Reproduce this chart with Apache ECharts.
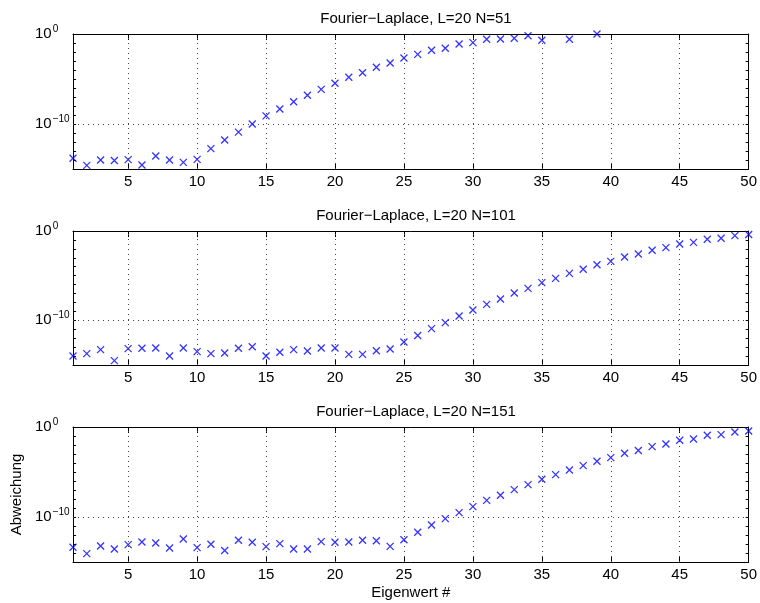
<!DOCTYPE html>
<html>
<head>
<meta charset="utf-8">
<title>Fourier-Laplace Abweichung</title>
<script src="https://cdn.jsdelivr.net/npm/echarts@6/dist/echarts.min.js"></script>
<style>
  html, body { margin: 0; padding: 0; background: #fff; }
  #chart { width: 760px; height: 603px; }
</style>
</head>
<body>
<div id="chart"></div>
<script>
// log10 der Abweichung, Eigenwert 1..50
const logAbwN51 = [-13.8, -14.6, -14.0, -14.05, -13.96, -14.55, -13.56, -14.0, -14.26, -13.93,
  -12.74, -11.78, -10.9, -10.0, -9.1, -8.33, -7.52, -6.81, -6.15, -5.48,
  -4.81, -4.3, -3.7, -3.22, -2.67, -2.26, -1.81, -1.59, -1.11, -0.96,
  -0.59, -0.56, -0.48, -0.19, -0.7, null, -0.59, null, 0.0, null,
  null, null, null, null, null, null, null, null, null, null];
const logAbwN101 = [-14.0, -13.73, -13.28, -14.51, -13.17, -13.13, -13.1, -14.0, -13.1, -13.5,
  -13.73, -13.66, -13.13, -12.95, -14.0, -13.58, -13.28, -13.44, -13.1, -13.1,
  -13.81, -13.81, -13.4, -13.2, -12.43, -11.7, -10.93, -10.26, -9.52, -8.85,
  -8.21, -7.61, -6.94, -6.42, -5.78, -5.3, -4.74, -4.29, -3.77, -3.4,
  -2.91, -2.58, -2.16, -1.86, -1.46, -1.27, -0.93, -0.82, -0.52, -0.4];
const logAbwN151 = [-13.37, -14.07, -13.22, -13.56, -13.07, -12.78, -12.89, -13.44, -12.44, -13.4,
  -13.03, -13.73, -12.59, -12.81, -13.29, -12.96, -13.56, -13.56, -12.74, -12.81,
  -12.78, -12.59, -12.63, -13.26, -12.52, -11.7, -10.89, -10.18, -9.51, -8.85,
  -8.15, -7.59, -6.96, -6.4, -5.81, -5.29, -4.78, -4.29, -3.81, -3.4,
  -2.92, -2.62, -2.18, -1.89, -1.48, -1.33, -0.92, -0.85, -0.56, -0.44];

const titles = ["Fourier\u2212Laplace, L=20 N=51", "Fourier\u2212Laplace, L=20 N=101", "Fourier\u2212Laplace, L=20 N=151"];
const xTicks = [5, 10, 15, 20, 25, 30, 35, 40, 45, 50];
const xGrid = [5, 10, 15, 20, 25, 30, 35, 40, 45];
const yLabelExp = [0, -10];

const panels = [logAbwN51, logAbwN101, logAbwN151];
const gridTops = [34, 231, 427];
const gridHeights = [135, 134, 135];
const font = "Liberation Sans, Arial, Helvetica, sans-serif";

const chart = echarts.init(document.getElementById("chart"), null, { renderer: "canvas" });

const option = {
  backgroundColor: "#fff",
  animation: false,
  textStyle: { fontFamily: font },
  title: [],
  grid: [],
  xAxis: [],
  yAxis: [],
  series: []
};

panels.forEach((vals, k) => {
  option.grid.push({ left: 73, right: 11, top: gridTops[k], height: gridHeights[k] });
  option.title.push({
    text: titles[k],
    left: 411,
    textAlign: "center",
    top: gridTops[k] - 28,
    textStyle: { fontFamily: font, fontSize: 15, fontWeight: "normal", color: "#000" }
  });

  const lineStyle = { color: "#000", width: 1 };
  // unten mit Beschriftung, oben nur Striche
  ["bottom", "top"].forEach((pos) => {
    option.xAxis.push({
      type: "value",
      gridIndex: k,
      position: pos,
      min: 1,
      max: 50,
      name: (pos === "bottom" && k === 2) ? "Eigenwert #" : "",
      nameLocation: "middle",
      nameGap: 23,
      nameTextStyle: { fontFamily: font, fontSize: 15, color: "#000" },
      axisLine: { show: true, onZero: false, lineStyle: lineStyle },
      axisTick: { show: true, inside: true, length: 6, customValues: xTicks, lineStyle: lineStyle },
      axisLabel: {
        show: pos === "bottom",
        customValues: xTicks,
        margin: 5,
        fontFamily: font,
        fontSize: 15,
        color: "#000"
      },
      splitLine: { show: false }
    });
  });

  ["left", "right"].forEach((pos) => {
    option.yAxis.push({
      type: "value",
      gridIndex: k,
      position: pos,
      min: -15,
      max: 0,
      interval: 1,
      name: (pos === "left" && k === 2) ? "Abweichung" : "",
      nameLocation: "middle",
      nameRotate: 90,
      nameGap: 43,
      nameTextStyle: { fontFamily: font, fontSize: 15, color: "#000" },
      axisLine: { show: true, onZero: false, lineStyle: lineStyle },
      axisTick: { show: true, inside: true, length: 3, lineStyle: lineStyle },
      axisLabel: {
        show: pos === "left",
        align: "left",
        margin: 38,
        formatter: (v) => yLabelExp.indexOf(v) >= 0
          ? "{b|10}{s|" + (v === 0 ? "0" : "\u221210") + "}"
          : "",
        rich: {
          b: { fontFamily: font, fontSize: 15, color: "#000", lineHeight: 20 },
          s: { fontFamily: font, fontSize: 10, color: "#000", verticalAlign: "top", lineHeight: 20, padding: [0, 0, 0, 1] }
        }
      },
      splitLine: { show: false }
    });
  });

  option.series.push({
    type: "scatter",
    xAxisIndex: 2 * k,
    yAxisIndex: 2 * k,
    symbol: "path://M0,0L10,10M10,0L0,10",
    symbolSize: 7,
    itemStyle: { color: "#0000ff", borderColor: "#0000ff", borderWidth: 1.3 },
    data: vals.map((v, i) => [i + 1, v]),
    markLine: {
      silent: true,
      symbol: "none",
      animation: false,
      label: { show: false },
      lineStyle: { color: "#444", width: 1, type: [1, 4] },
      data: xGrid.map((x) => ({ xAxis: x })).concat([{ yAxis: -10 }])
    },
    z: 3
  });
});

chart.setOption(option);
</script>
</body>
</html>
